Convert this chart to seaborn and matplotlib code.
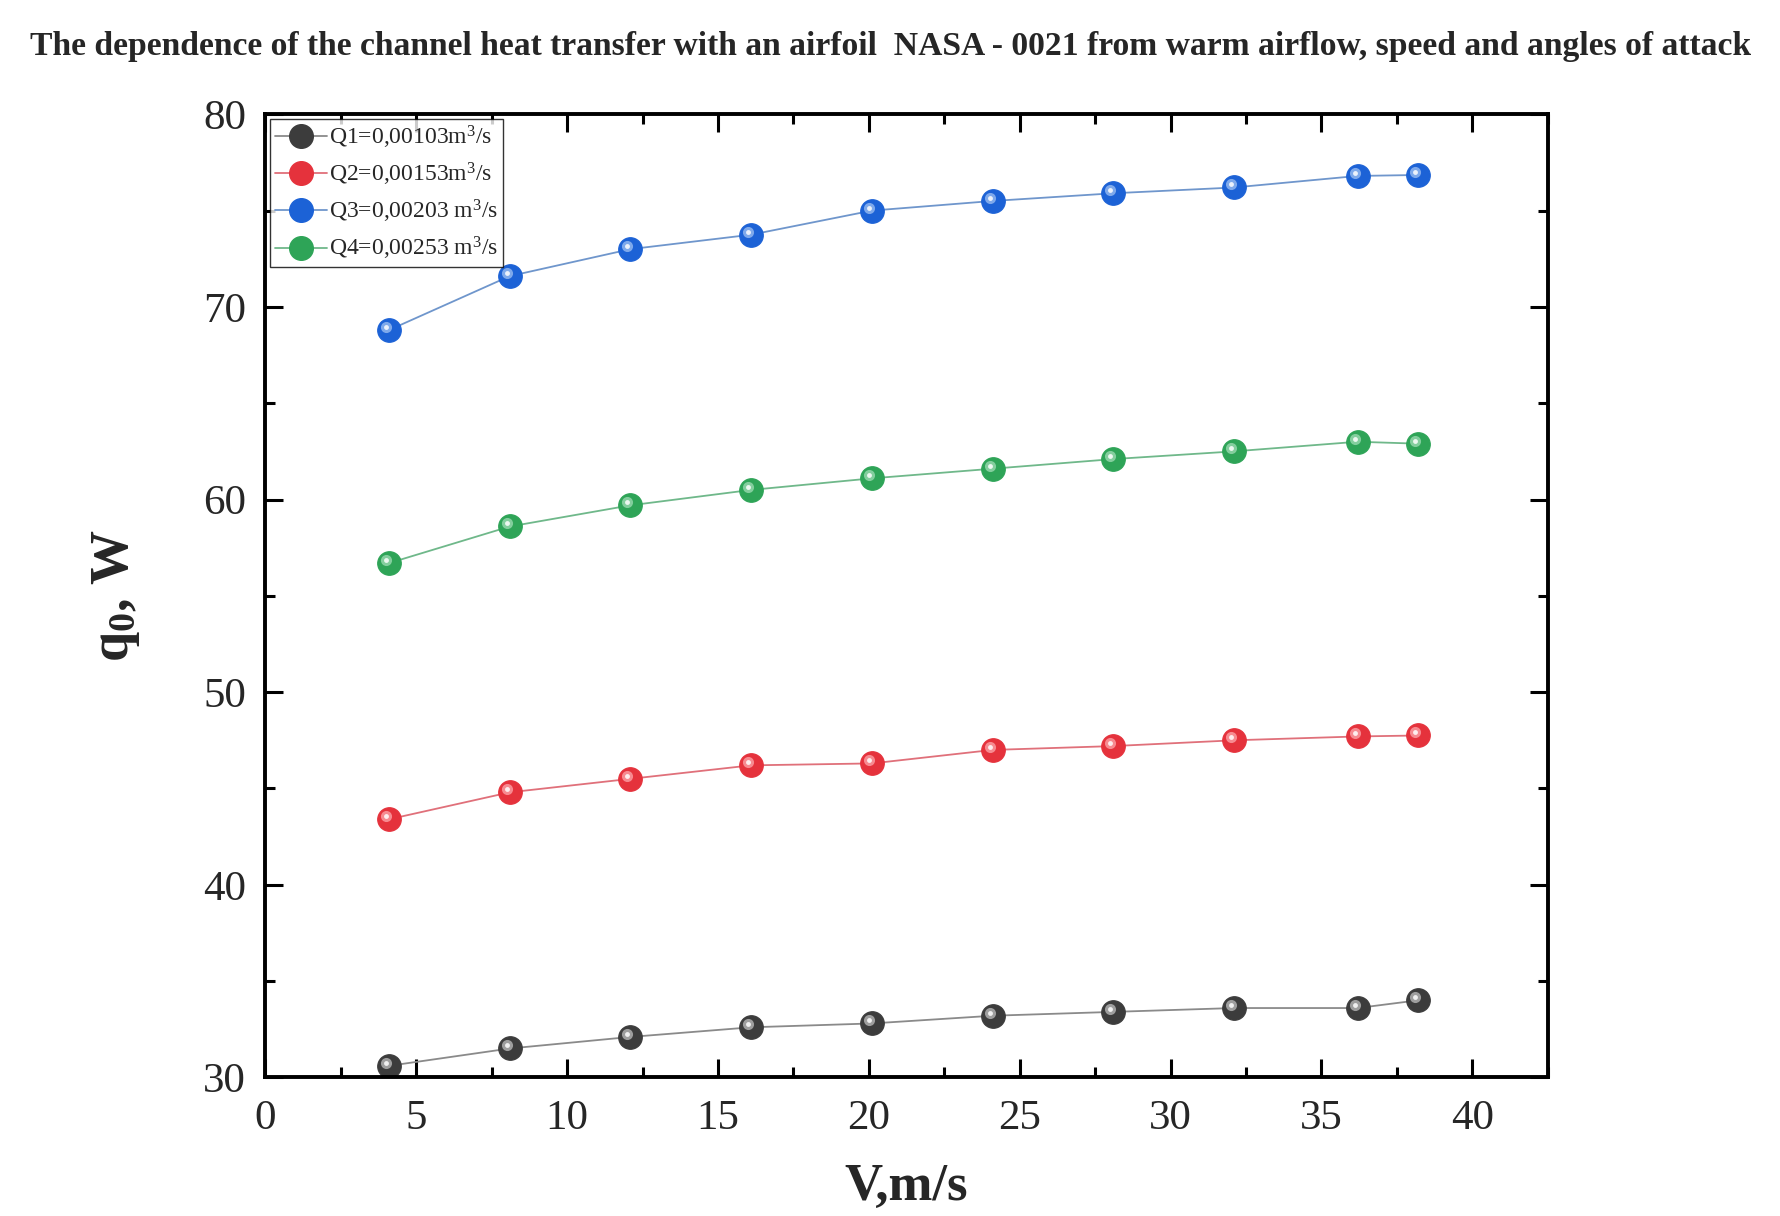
import matplotlib
matplotlib.use("Agg")
import matplotlib.pyplot as plt
import matplotlib.transforms as mtransforms
import pandas as pd
import seaborn as sns
from matplotlib.ticker import MultipleLocator

speed = [4.1, 8.1, 12.1, 16.1, 20.1, 24.1, 28.1, 32.1, 36.2, 38.2]
q1 = [30.6, 31.5, 32.1, 32.6, 32.8, 33.2, 33.4, 33.6, 33.6, 34.0]
q2 = [43.4, 44.8, 45.5, 46.2, 46.3, 47.0, 47.2, 47.5, 47.7, 47.75]
q3 = [68.8, 71.6, 73.0, 73.75, 75.0, 75.5, 75.9, 76.2, 76.8, 76.85]
q4 = [56.7, 58.6, 59.7, 60.5, 61.1, 61.6, 62.1, 62.5, 63.0, 62.9]

labels = [
    r"Q1=0,00103m$^{3}$/s",
    r"Q2=0,00153m$^{3}$/s",
    r"Q3=0,00203 m$^{3}$/s",
    r"Q4=0,00253 m$^{3}$/s",
]
marker_colors = ["#3c3c3c", "#e5323c", "#1c62d6", "#2ea457"]
line_colors = ["#8a8a8a", "#e0707a", "#6f96cc", "#6fb88a"]
light_colors = ["#c8c8c8", "#ffb0b5", "#a9c8f5", "#a8e0bc"]

title = ("The dependence of the channel heat transfer with an airfoil  NASA - 0021 "
         "from warm airflow, speed and angles of attack")


def main() -> None:
    sns.set_theme(style="ticks")
    plt.rcParams["font.family"] = ["Liberation Serif", "DejaVu Serif"]
    plt.rcParams["mathtext.fontset"] = "custom"
    plt.rcParams["mathtext.rm"] = "Liberation Serif"
    plt.rcParams["mathtext.bf"] = "Liberation Serif:bold"
    plt.rcParams["mathtext.it"] = "Liberation Serif:italic"

    rows = []
    for label, values in zip(labels, [q1, q2, q3, q4]):
        for v, q in zip(speed, values):
            rows.append({"V": v, "q": q, "series": label})
    df = pd.DataFrame(rows)

    fig = plt.figure(figsize=(17.81, 12.16), dpi=100)
    ax = fig.add_axes([0.149, 0.114, 0.72, 0.792])

    sns.lineplot(
        data=df, x="V", y="q", hue="series", hue_order=labels,
        palette=line_colors, marker="o", markersize=17, linewidth=1.3,
        markeredgewidth=0.8, ax=ax, legend=False,
    )
    # recolour markers and add a soft highlight for a sphere look
    offset = mtransforms.ScaledTranslation(-3 / 100, 3 / 100, fig.dpi_scale_trans)
    for line, mc, lc in zip(ax.get_lines(), marker_colors, light_colors):
        line.set_markerfacecolor(mc)
        line.set_markeredgecolor(mc)
        xs, ys = line.get_xdata(), line.get_ydata()
        ax.plot(xs, ys, linestyle="none", marker="o", markersize=8,
                markerfacecolor=lc, markeredgewidth=0, alpha=0.7,
                transform=ax.transData + offset, zorder=5)
        ax.plot(xs, ys, linestyle="none", marker="o", markersize=3.5,
                markerfacecolor="white", markeredgewidth=0, alpha=0.85,
                transform=ax.transData + offset, zorder=6)

    handles = []
    for label, mc, lc in zip(labels, marker_colors, line_colors):
        h, = ax.plot([], [], color=lc, linewidth=1.3, marker="o",
                     markersize=17, markerfacecolor=mc, markeredgecolor=mc,
                     label=label)
        handles.append(h)
    leg = ax.legend(handles=handles, loc="upper left", fontsize=17,
                    frameon=True, fancybox=False, edgecolor="black",
                    borderaxespad=0.2, handlelength=2.2, handletextpad=0.1,
                    labelspacing=0.42, borderpad=0.2)
    leg.get_frame().set_linewidth(1.0)

    ax.set_xlim(0, 42.5)
    ax.set_ylim(30, 80)
    ax.xaxis.set_major_locator(MultipleLocator(5))
    ax.xaxis.set_minor_locator(MultipleLocator(2.5))
    ax.yaxis.set_major_locator(MultipleLocator(10))
    ax.yaxis.set_minor_locator(MultipleLocator(5))
    ax.tick_params(which="both", direction="in", top=True, right=True,
                   labeltop=False, labelright=False, width=2.2, color="black")
    ax.tick_params(which="major", length=13, labelsize=31)
    ax.tick_params(axis="x", which="major", pad=16)
    ax.tick_params(axis="y", which="major", pad=14)
    ax.tick_params(which="minor", length=7)
    for s in ax.spines.values():
        s.set_linewidth(2.8)
        s.set_color("black")

    ax.set_xlabel("V,m/s", fontsize=38, fontweight="bold", labelpad=18)
    ax.set_ylabel(r"q$_{\mathbf{0}}$, W", fontsize=39, fontweight="bold",
                  labelpad=44)

    fig.text(0.017, 0.962, title, fontsize=24.2, fontweight="bold",
             ha="left", va="center")

    fig.savefig("out.png", dpi=100)


if __name__ == "__main__":
    main()
